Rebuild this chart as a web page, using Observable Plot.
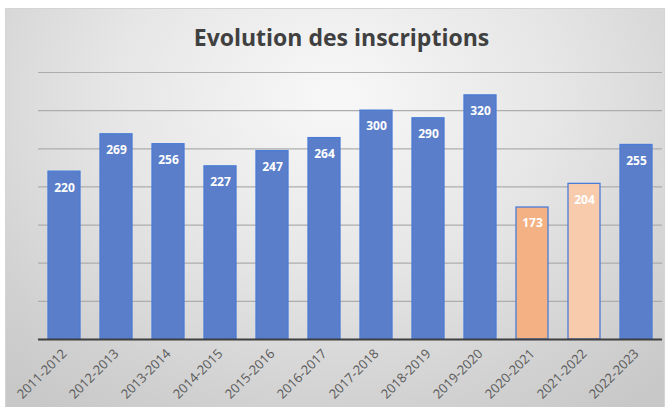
<!DOCTYPE html>
<html><head><meta charset="utf-8">
<script src="https://cdn.jsdelivr.net/npm/d3@7"></script>
<script src="https://cdn.jsdelivr.net/npm/@observablehq/plot@0.6"></script>
<style>
html,body{margin:0;padding:0;background:#fff;}
#wrap{position:relative;width:667px;height:407px;overflow:hidden;background:#fff;}
#frame{position:absolute;left:5px;top:8px;width:660px;height:402px;box-sizing:border-box;border:1px solid #d4d4d4;
 background:radial-gradient(ellipse 75% 95% at 50% 22%, #f8f8f8 0%, #e6e6e6 45%, #d2d2d2 80%, #c8c8c8 100%);}
#title{position:absolute;left:8px;top:8px;width:667px;height:56px;text-align:center;font-family:"Open Sans",sans-serif;font-weight:700;font-size:23px;line-height:58px;color:#404040;}
#chart{position:absolute;left:0;top:64px;}
#chart svg{background:transparent !important;}
</style></head>
<body>
<div id="wrap"><div id="frame"></div><div id="title">Evolution des inscriptions</div><div id="chart"></div></div>
<script>
const years = ["2011-2012","2012-2013","2013-2014","2014-2015","2015-2016","2016-2017","2017-2018","2018-2019","2019-2020","2020-2021","2021-2022","2022-2023"];
const inscriptions = [220,269,256,227,247,264,300,290,320,173,204,255];
const gridValues = [50,100,150,200,250,300,350];

const data = years.map((y,i)=>({year:y, value:inscriptions[i]}));
const fillFor = d => d.year === "2020-2021" ? "#F4B183" : d.year === "2021-2022" ? "#F8CBAD" : "#5A7EC9";

const chart = Plot.plot({
  width: 667,
  height: 343,
  marginTop: 8,
  marginBottom: 68,
  marginLeft: 38,
  marginRight: 5,
  style: {background: "transparent", overflow: "visible"},
  x: {domain: years, paddingInner: 0.38, paddingOuter: 0.19, label: null},
  y: {domain: [0, 350], label: null},
  marks: [
    Plot.ruleY(gridValues, {stroke: "#adadad", strokeWidth: 1.2}),
    Plot.barY(data, {x: "year", y: "value", fill: fillFor, stroke: "#4A7CD6", strokeWidth: 1.3}),
    Plot.ruleY([0], {stroke: "#3f3f3f", strokeWidth: 2}),
    Plot.text(data, {x: "year", y: "value", text: d => String(d.value), dy: 16, fill: "#fff",
      fontFamily: "'Open Sans', sans-serif", fontWeight: 700, fontSize: 12}),
    Plot.axisX({tickSize: 0, tickRotate: -45, tickPadding: 12, fontSize: 13,
      fontFamily: "'Open Sans', sans-serif", fill: "#595959", label: null}),
    Plot.axisY({ticks: [], label: null, tickSize: 0})
  ]
});
document.getElementById("chart").appendChild(chart);
</script>
</body></html>
